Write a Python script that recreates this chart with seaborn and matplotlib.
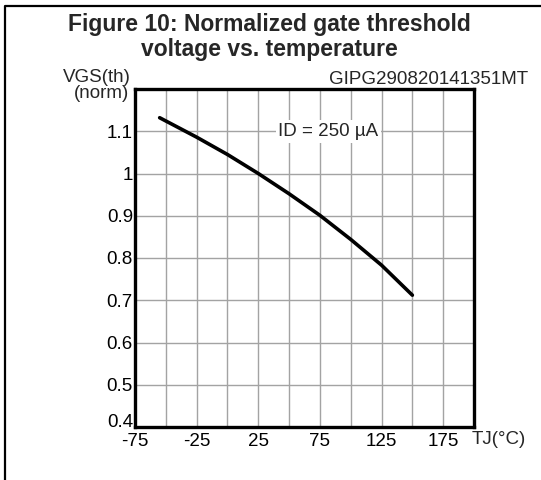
import numpy as np
import pandas as pd
import matplotlib
matplotlib.use("Agg")
import matplotlib.pyplot as plt
from matplotlib.lines import Line2D
import seaborn as sns

# data
temperature = [-55, -25, 0, 25, 50, 75, 100, 125, 150]
vgs_norm = [1.132, 1.086, 1.045, 1.0, 0.952, 0.901, 0.844, 0.783, 0.712]

x_ticks = [-75, -25, 25, 75, 125, 175]
y_ticks = [0.4, 0.5, 0.6, 0.7, 0.8, 0.9, 1.0, 1.1]
y_tick_labels = ["0.4", "0.5", "0.6", "0.7", "0.8", "0.9", "1", "1.1"]

df = pd.DataFrame({"TJ": temperature, "VGS": vgs_norm})

sns.set_style("white")
plt.rcParams["font.family"] = ["Liberation Sans", "DejaVu Sans"]
plt.rcParams["axes.unicode_minus"] = False

fs = 13.5

fig = plt.figure(figsize=(5.41, 4.8), dpi=100)
ax = fig.add_axes([135 / 541, 1 - 427 / 480, (474 - 135) / 541, (427 - 89) / 480])

sns.lineplot(data=df, x="TJ", y="VGS", ax=ax, color="black", linewidth=2.6)

ax.set_xlim(-75, 200)
ax.set_ylim(0.4, 1.2)

# grid every 25 degC and 0.1
ax.set_xticks(np.arange(-75, 201, 25), minor=True)
ax.set_yticks(np.arange(0.4, 1.21, 0.1), minor=True)
ax.grid(which="both", color="#a3a3a3", linewidth=1.0)
ax.set_axisbelow(True)

ax.set_xticks(x_ticks)
ax.set_yticks(y_ticks)
ax.set_yticklabels(y_tick_labels)
ax.tick_params(axis="both", which="both", length=0, labelsize=fs, colors="black")
ax.tick_params(axis="y", pad=1.5)
ax.tick_params(axis="x", pad=4)
ax.set_xlabel("")
ax.set_ylabel("")
# lowest y label sits on the axis line, as in the original
ax.get_yticklabels()[0].set_va("baseline")

for s in ax.spines.values():
    s.set_visible(True)
    s.set_color("black")
    s.set_linewidth(2.4)

ax.text(82, 1.1, "ID = 250 \u00b5A", fontsize=fs, ha="center", va="center",
        bbox=dict(facecolor="white", edgecolor="none", pad=2))

fig.text(472 / 541, 1 - 440 / 480, "TJ(\u00b0C)", fontsize=fs, ha="left", va="center")
fig.text(131 / 541, 1 - 78 / 480, "VGS(th)", fontsize=fs, ha="right", va="center")
fig.text(129 / 541, 1 - 94 / 480, "(norm)", fontsize=fs, ha="right", va="center")
fig.text(528 / 541, 1 - 79 / 480, "GIPG290820141351MT", fontsize=fs, ha="right", va="center")

fig.text(269 / 541, 1 - 31 / 480, "Figure 10: Normalized gate threshold",
         fontsize=16.5, fontweight="bold", ha="center", va="baseline")
fig.text(269 / 541, 1 - 56 / 480, "voltage vs. temperature",
         fontsize=16.5, fontweight="bold", ha="center", va="baseline")

# frame around the figure (cut at right and bottom)
fig.add_artist(Line2D([5 / 541, 5 / 541, 1.0], [0.0, 1 - 6 / 480, 1 - 6 / 480],
                      transform=fig.transFigure, color="black", linewidth=1.6))

fig.savefig("out.png", dpi=100)
